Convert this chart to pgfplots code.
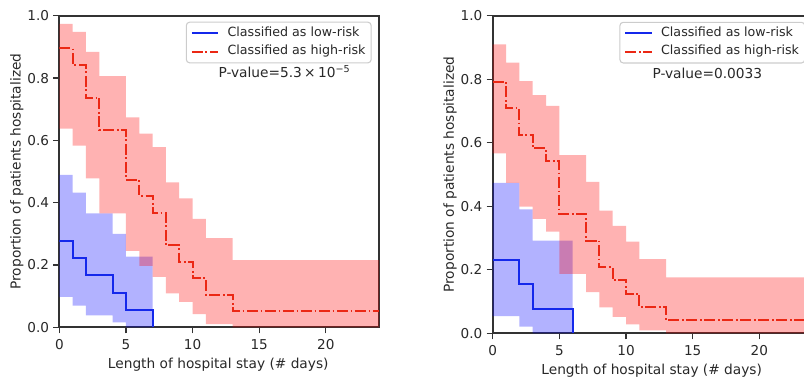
\documentclass[border=0pt]{standalone}
\usepackage{fontspec}
\setmainfont{DejaVu Sans}
\usepackage{pgfplots}
\pgfplotsset{compat=1.18}
\usepgfplotslibrary{fillbetween}
\definecolor{axisgray}{RGB}{51,51,51}
\definecolor{txt}{RGB}{40,40,40}
\definecolor{kmred}{RGB}{235,40,20}
\definecolor{kmblue}{RGB}{20,40,235}
\definecolor{bandred}{RGB}{255,0,0}
\definecolor{bandblue}{RGB}{0,0,255}
\definecolor{legframe}{RGB}{204,204,204}
\pgfplotsset{
  kmaxis/.style={
    scale only axis, anchor=south west,
    xmin=0, xmax=24, ymin=0, ymax=1,
    xtick={0,5,10,15,20}, ytick={0,0.2,0.4,0.6,0.8,1},
    tick pos=left, tick align=outside, major tick length=4.5pt,
    every tick/.style={axisgray, line width=1pt},
    axis line style={axisgray, line width=1.3pt},
    /pgf/number format/assume math mode=true,
    ticklabel style={font=\fontsize{10.2}{12}\selectfont, text=txt},
    yticklabel style={/pgf/number format/.cd, fixed, fixed zerofill, precision=1, /tikz/.cd, xshift=0.3pt},
    xticklabel style={yshift=-0.8pt},
    xlabel={Length of hospital stay (\# days)},
    ylabel={Proportion of patients hospitalized},
    label style={font=\fontsize{10.3}{12}\selectfont, text=txt},
    xlabel style={at={(axis description cs:0.497,0)}, anchor=center, yshift=-28pt},
    ylabel style={at={(axis description cs:-0.133,0.5)}, anchor=center},
    legend style={at={(rel axis cs:0.977,0.981)}, anchor=north east,
      draw=legframe, line width=0.8pt, rounded corners=2.5pt,
      fill=white, fill opacity=0.8, text opacity=1,
      font=\fontsize{9.5}{11}\selectfont, text=txt,
      inner xsep=3.3pt, inner ysep=2.5pt, row sep=2.5pt,
      nodes={inner sep=1pt, text height=7pt, text depth=2.5pt}},
    legend cell align=left,
    legend image code/.code={\draw[#1] (0pt,0pt) -- (20pt,0pt);},
    /tikz/every odd column/.append style={column sep=5pt},
  },
  bluel/.style={kmblue, line width=1.6pt, const plot},
  redl/.style={kmred, line width=1.5pt, const plot, dash pattern=on 8.2pt off 2pt on 1.3pt off 2pt},
  bnd/.style={draw=none, const plot, forget plot},
}
\begin{document}
\begin{tikzpicture}
% ---------------- left panel ----------------
\begin{axis}[kmaxis, at={(44.5pt,36.5pt)}, width=239.8pt, height=233.7pt]
\addplot[bnd, name path=bu] coordinates {(0,0.489)(1,0.432)(2,0.366)(4,0.300)(5,0.227)(7,0.227)};
\addplot[bnd, name path=bl] coordinates {(0,0.098)(1,0.070)(2,0.038)(4,0.016)(5,0)(7,0)};
\addplot[bandblue, fill opacity=0.3, draw=none, forget plot] fill between[of=bu and bl];
\addplot[bnd, name path=ru] coordinates {(0,0.974)(1,0.948)(2,0.884)(3,0.806)(5,0.674)(6,0.622)(7,0.578)(8,0.465)(9,0.414)(10,0.348)(11,0.286)(13,0.216)(24,0.216)};
\addplot[bnd, name path=rl] coordinates {(0,0.638)(1,0.583)(2,0.478)(3,0.366)(5,0.245)(6,0.197)(7,0.162)(8,0.109)(9,0.082)(10,0.042)(11,0.010)(13,0)(24,0)};
\addplot[bandred, fill opacity=0.3, draw=none, forget plot] fill between[of=ru and rl];
\addplot[bluel] coordinates {(0,0.278)(1,0.222)(2,0.167)(4,0.111)(5,0.056)(7,0)};
\addlegendentry{Classified as low-risk}
\addplot[redl] coordinates {(0,0.895)(1,0.842)(2,0.737)(3,0.632)(5,0.474)(6,0.421)(7,0.368)(8,0.263)(9,0.211)(10,0.158)(11,0.105)(13,0.053)(24,0.053)};
\addlegendentry{Classified as high-risk}
\node[anchor=west, inner sep=0pt, font=\fontsize{10.3}{12}\selectfont, text=txt] at (axis cs:11.93,0.82) {P-value=5.3\,×\,10\textsuperscript{−5}};
\end{axis}
% ---------------- right panel ----------------
\begin{axis}[kmaxis, at={(369.5pt,32.0pt)}, width=240pt, height=238.2pt]
\addplot[bnd, name path=bu] coordinates {(0,0.474)(2,0.390)(3,0.292)(6,0.292)};
\addplot[bnd, name path=bl] coordinates {(0,0.054)(2,0.021)(3,0)(6,0)};
\addplot[bandblue, fill opacity=0.3, draw=none, forget plot] fill between[of=bu and bl];
\addplot[bnd, name path=ru] coordinates {(0,0.910)(1,0.852)(2,0.794)(3,0.750)(4,0.716)(5,0.561)(7,0.477)(8,0.386)(9,0.338)(10,0.289)(11,0.234)(13,0.176)(24,0.176)};
\addplot[bnd, name path=rl] coordinates {(0,0.567)(1,0.474)(2,0.399)(3,0.360)(4,0.320)(5,0.187)(7,0.130)(8,0.082)(9,0.052)(10,0.028)(11,0.009)(13,0)(24,0)};
\addplot[bandred, fill opacity=0.3, draw=none, forget plot] fill between[of=ru and rl];
\addplot[bluel] coordinates {(0,0.231)(2,0.154)(3,0.077)(6,0)};
\addlegendentry{Classified as low-risk}
\addplot[redl] coordinates {(0,0.792)(1,0.708)(2,0.625)(3,0.583)(4,0.542)(5,0.375)(7,0.292)(8,0.208)(9,0.167)(10,0.125)(11,0.083)(13,0.042)(24,0.042)};
\addlegendentry{Classified as high-risk}
\node[anchor=west, inner sep=0pt, font=\fontsize{10.3}{12}\selectfont, text=txt] at (axis cs:11.97,0.82) {P-value=0.0033};
\end{axis}
\pgfresetboundingbox
\path[use as bounding box] (0,0) rectangle (603pt,282pt);
\end{tikzpicture}
\end{document}
